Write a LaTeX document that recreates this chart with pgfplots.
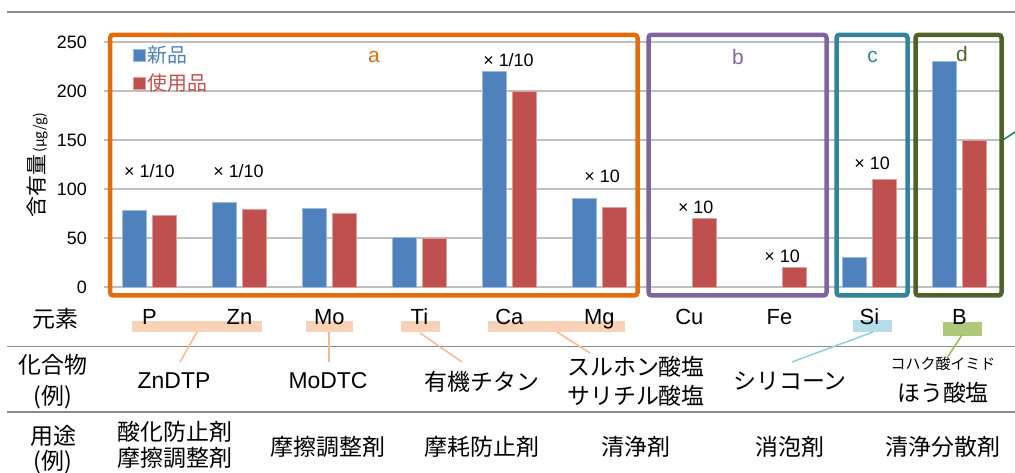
\documentclass[border=0pt]{standalone}
\usepackage{pgfplots}
\pgfplotsset{compat=1.18}
\usepackage{pgfplotstable}
\usepackage{fontspec}
\setmainfont{Liberation Sans}
\newfontfamily\jp{Noto Sans CJK JP}

\definecolor{newblue}{HTML}{4F81BD}
\definecolor{usedred}{HTML}{C0504D}
\definecolor{grpA}{HTML}{E46C0A}
\definecolor{grpB}{HTML}{8064A2}
\definecolor{grpC}{HTML}{31849B}
\definecolor{grpD}{HTML}{4F6228}
\definecolor{gridgray}{HTML}{BFBFBF}
\definecolor{rulegray}{HTML}{8C8C8C}
\definecolor{hlA}{HTML}{F8D2B6}
\definecolor{hlC}{HTML}{B7DEE8}
\definecolor{hlD}{HTML}{AFC97A}
\definecolor{linkA}{HTML}{F7B98F}
\definecolor{linkC}{HTML}{92CDDC}
\definecolor{linkD}{HTML}{9BBB59}
\definecolor{arrowgreen}{HTML}{1A7A5E}

\newcommand\fs[1]{\fontsize{#1}{#1}\selectfont}

% element index: P Zn Mo Ti Ca Mg Cu Fe Si B -> 0..9
\pgfplotstableread{
x v
0 78
1 86
2 80
3 51
4 220
5 90
8 30
9 230
}\newoil
\pgfplotstableread{
x v
0 73
1 79
2 75
3 50
4 200
5 81
6 70
7 20
8 110
9 150
}\usedoil

% page coordinates measured from the top-left corner
\tikzset{page/.style={shift={(0,473)}, yscale=-1}}

\begin{document}
\begin{tikzpicture}[x=1bp,y=1bp]
\useasboundingbox (0,0) rectangle (1015,473);

\begin{scope}[page]
% table rules
\draw[rulegray, line width=2bp] (7,11.7) -- (1015,11.7);
\draw[rulegray, line width=1.6bp] (7,346.7) -- (1015,346.7);
\draw[rulegray, line width=1.6bp] (7,412.3) -- (1015,412.3);

% highlights under the element names
\fill[hlA] (132,321) rectangle (262,332);
\fill[hlA] (306,321) rectangle (353,332);
\fill[hlA] (401,321) rectangle (440,332);
\fill[hlA] (488,321) rectangle (625,332);
\fill[hlC] (853,320) rectangle (892,332);
\fill[hlD] (943,322) rectangle (982,336);

% links to compound examples
\draw[linkA, line width=1.5bp] (197,332) -- (180,362);
\draw[linkA, line width=1.5bp] (329,332) -- (329,362);
\draw[linkA, line width=1.5bp] (420,333) -- (462,362);
\draw[linkA, line width=1.5bp] (557,332) -- (590,353);
\draw[linkC, line width=1.5bp] (873,332) -- (792,362);
\draw[linkD, line width=1.5bp] (962,335) -- (947,358);
\end{scope}

\begin{axis}[
  at={(116,189.7)}, anchor=south west,
  scale only axis, width=900bp, height=245bp,
  xmin=-0.5, xmax=9.5, ymin=0, ymax=250,
  ybar, bar width=24bp,
  axis line style={draw=none},
  major tick length=0pt,
  ytick={0,50,...,250},
  ymajorgrids, grid style={gridgray, line width=1.3bp},
  xtick={0,...,9},
  xticklabels={P,Zn,Mo,Ti,Ca,Mg,Cu,Fe,Si,B},
  xticklabel style={font=\fs{22}, anchor=base, yshift=-37.5bp},
  yticklabel style={font=\fs{18}, xshift=-14bp},
  /pgf/number format/assume math mode=true,
  clip=false,
  legend style={at={(0.031,0.993)}, anchor=north west, draw=none, fill=none,
    inner sep=0pt, font=\jp\fs{20}, row sep=6bp},
  legend cell align=left,
  legend image code/.code={\fill[#1] (0bp,-6bp) rectangle (12bp,6bp);},
]
\addplot[ybar, fill=newblue, draw=newblue!55!white, line width=0.8bp, bar shift=-15bp]
  table[x=x, y=v] {\newoil};
\addlegendentry{\textcolor{newblue}{新品}}
\addplot[ybar, fill=usedred, draw=usedred!55!white, line width=0.8bp, bar shift=15bp]
  table[x=x, y=v] {\usedoil};
\addlegendentry{\textcolor{usedred}{使用品}}

% scale factors of the plotted values
\node[font=\fs{18}] at (axis cs:0,118) {× 1/10};
\node[font=\fs{18}] at (axis cs:0.99,118) {× 1/10};
\node[font=\fs{18}] at (axis cs:3.99,231.5) {× 1/10};
\node[font=\fs{18}] at (axis cs:5.03,113) {× 10};
\node[font=\fs{18}] at (axis cs:6.07,81) {× 10};
\node[font=\fs{18}] at (axis cs:7.03,31) {× 10};
\node[font=\fs{18}] at (axis cs:8.03,126) {× 10};
\end{axis}

\begin{scope}[page]
% additive groups
\draw[grpA, line width=4.5bp, rounded corners=3bp] (110,34.8) rectangle (637.5,295.5);
\draw[grpB, line width=4.5bp, rounded corners=3bp] (648.5,34.8) rectangle (826.5,295.5);
\draw[grpC, line width=4.5bp, rounded corners=3bp] (836.5,34.8) rectangle (907.5,295.5);
\draw[grpD, line width=4.5bp, rounded corners=3bp] (915.5,34.8) rectangle (1001.5,295.5);
\node[grpA, font=\fs{21}] at (374,57) {a};
\node[grpB, font=\fs{21}] at (738,57) {b};
\node[grpC, font=\fs{21}] at (872.5,57) {c};
\node[grpD, font=\fs{21}] at (962,54) {d};
\draw[arrowgreen, line width=1.5bp] (1003,140) -- (1015,132);

% y axis title
\node[rotate=90, font=\jp\fs{21}, inner sep=0pt] at (37.5,165) {含有量{\fs{14}\,(μg/g)}};

% row headers
\node[font=\jp\fs{23}] at (55,319) {元素};
\node[font=\jp\fs{23}] at (53,365) {化合物};
\node[font=\jp\fs{23}] at (53,397) {(例)};
\node[font=\jp\fs{23}] at (53,436) {用途};
\node[font=\jp\fs{23}] at (53,462) {(例)};

% compound examples
\node[font=\fs{23}] at (174,381) {ZnDTP};
\node[font=\fs{23}] at (328,381) {MoDTC};
\node[font=\jp\fs{23}] at (482,382) {有機チタン};
\node[font=\jp\fs{23}] at (636,367) {スルホン酸塩};
\node[font=\jp\fs{23}] at (636,396) {サリチル酸塩};
\node[font=\jp\fs{23}] at (790,381) {シリコーン};
\node[font=\jp\fs{15}] at (943,364) {コハク酸イミド};
\node[font=\jp\fs{23}] at (943,393) {ほう酸塩};

% uses
\node[font=\jp\fs{23}] at (175,432) {酸化防止剤};
\node[font=\jp\fs{23}] at (175,458) {摩擦調整剤};
\node[font=\jp\fs{23}] at (328,447) {摩擦調整剤};
\node[font=\jp\fs{23}] at (482,447) {摩耗防止剤};
\node[font=\jp\fs{23}] at (636,447) {清浄剤};
\node[font=\jp\fs{23}] at (790,447) {消泡剤};
\node[font=\jp\fs{23}] at (943,447) {清浄分散剤};
\end{scope}
\end{tikzpicture}
\end{document}
